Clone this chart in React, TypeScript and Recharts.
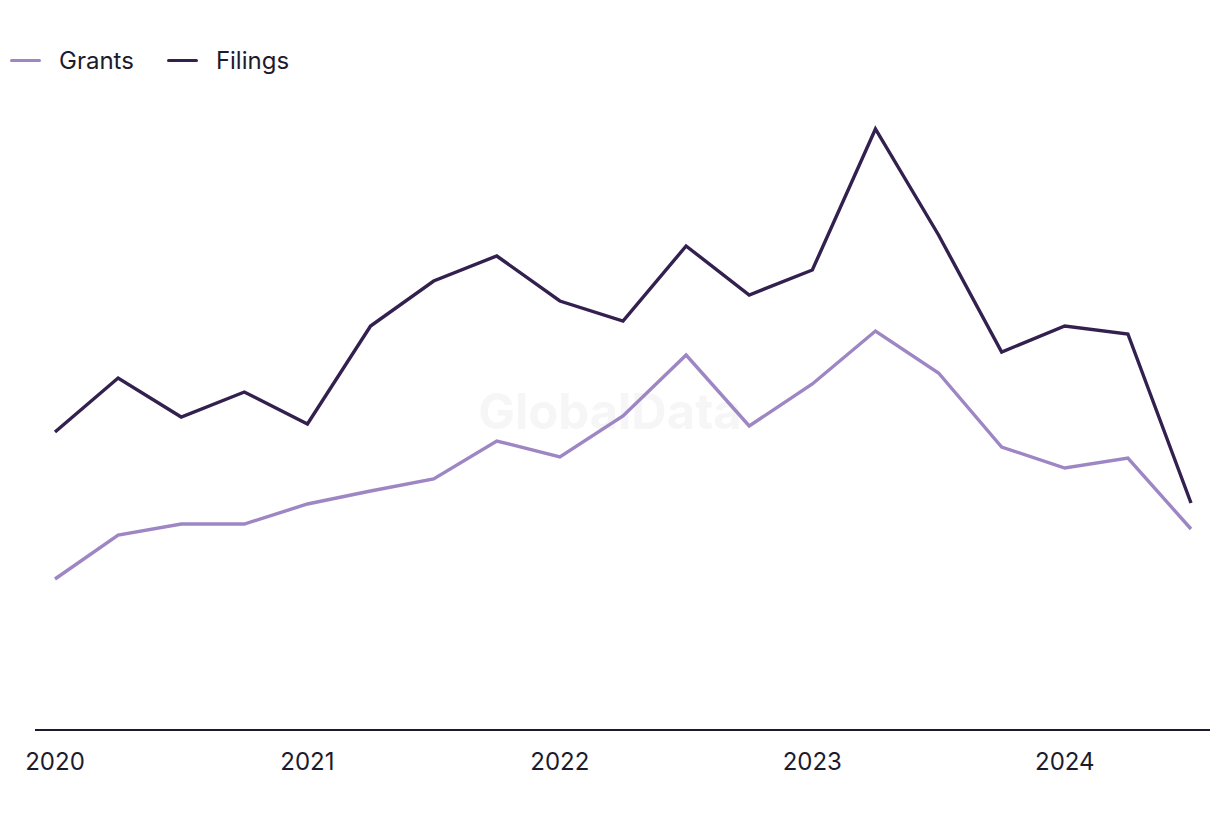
import React from 'react';
import { LineChart, Line, XAxis, YAxis } from 'recharts';

const quarters = [
  '2020 Q1', '2020 Q2', '2020 Q3', '2020 Q4',
  '2021 Q1', '2021 Q2', '2021 Q3', '2021 Q4',
  '2022 Q1', '2022 Q2', '2022 Q3', '2022 Q4',
  '2023 Q1', '2023 Q2', '2023 Q3', '2023 Q4',
  '2024 Q1', '2024 Q2', '2024 Q3',
];

const filings = [149, 176, 156.5, 169, 153, 202, 224.5, 237, 214.5, 204.5, 242, 217.5, 230, 300.5, 247.5, 189, 202, 198, 113.5];
const grants = [75.5, 97.5, 103, 103, 113, 119.5, 125.5, 144.5, 136.5, 157, 187.5, 152, 173, 199.5, 178.5, 141.5, 131, 136, 100.5];

const data = quarters.map((q, i) => ({ q, grants: grants[i], filings: filings[i] }));

const GRANTS = '#9d86c3';
const FILINGS = '#33204f';
const TEXT = '#1c1b2e';
const FONT = 'Inter, "Noto Sans", sans-serif';

const legendItems = [
  { label: 'Grants', color: GRANTS },
  { label: 'Filings', color: FILINGS },
];

export default function App() {
  return (
    <div style={{ position: 'absolute', left: 0, top: 0, width: 1220, height: 820, background: '#fff' }}>
      <div
        style={{
          position: 'absolute', left: 0, width: 1220, top: 382, textAlign: 'center',
          fontFamily: FONT, fontWeight: 700, fontSize: 49, color: '#f6f6f6',
        }}
      >
        GlobalData
      </div>
      <div
        style={{
          position: 'absolute', left: 10, top: 46, display: 'flex', alignItems: 'center',
          fontFamily: FONT, fontSize: 24, color: TEXT, zIndex: 2,
        }}
      >
        {legendItems.map((it) => (
          <div key={it.label} style={{ display: 'flex', alignItems: 'center', marginRight: 33 }}>
            <span style={{ display: 'inline-block', width: 31, height: 3.5, borderRadius: 2, background: it.color, marginRight: 18 }} />
            <span>{it.label}</span>
          </div>
        ))}
      </div>
      <div style={{ position: 'absolute', left: 0, top: 0 }}>
        <LineChart width={1220} height={820} data={data} margin={{ top: 0, right: 10, bottom: 30, left: 35 }}>
          <XAxis
            dataKey="q"
            height={60}
            interval={0}
            padding={{ left: 20, right: 19 }}
            tickLine={false}
            axisLine={{ stroke: TEXT, strokeWidth: 2 }}
            tickFormatter={(v: string) => (v.endsWith('Q1') ? v.slice(0, 4) : '')}
            tick={{ fill: TEXT, fontSize: 24, fontFamily: FONT }}
            dy={15}
          />
          <YAxis hide domain={[0, 365]} />
          <Line dataKey="grants" stroke={GRANTS} strokeWidth={3.4} dot={false} isAnimationActive={false} />
          <Line dataKey="filings" stroke={FILINGS} strokeWidth={3.4} dot={false} isAnimationActive={false} />
        </LineChart>
      </div>
    </div>
  );
}
